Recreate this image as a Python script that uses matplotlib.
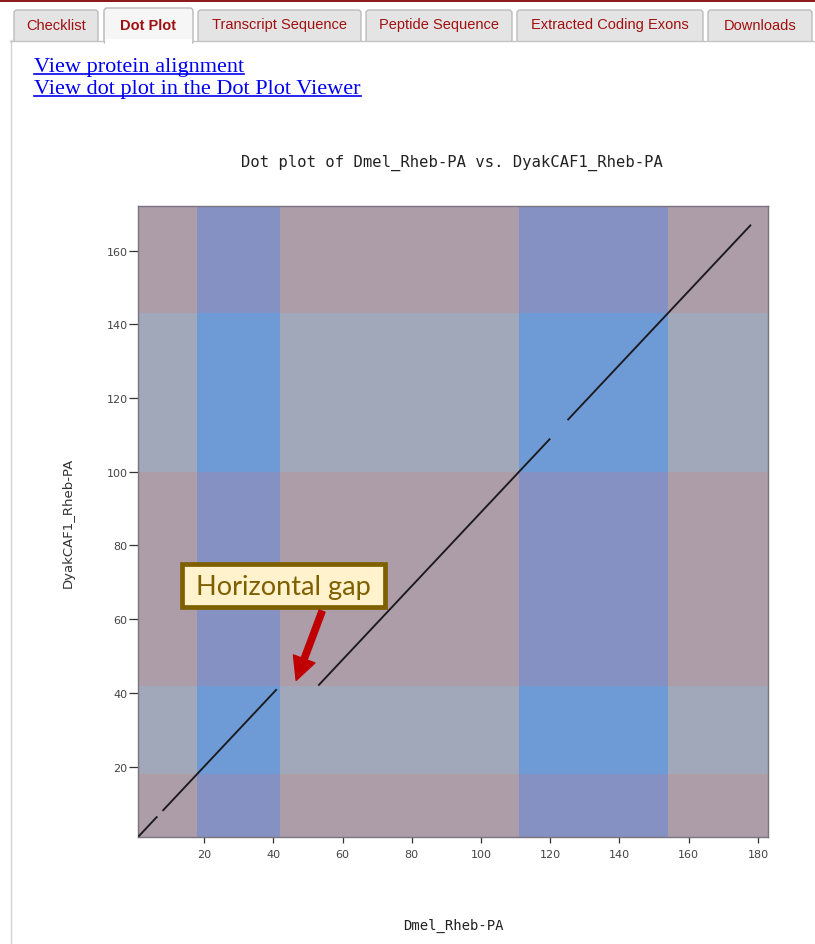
import matplotlib
matplotlib.use("Agg")
import matplotlib.pyplot as plt
from matplotlib.patches import Rectangle, FancyBboxPatch
from matplotlib.lines import Line2D
from matplotlib.transforms import IdentityTransform

# ---------------- data ----------------
title_text = "Dot plot of Dmel_Rheb-PA vs. DyakCAF1_Rheb-PA"
query_name = "Dmel_Rheb-PA"
subject_name = "DyakCAF1_Rheb-PA"
query_exon_bounds = [1, 18, 42, 111, 154, 183]
subject_exon_bounds = [1, 18, 42, 100, 143, 172]
seg_x_start = [1, 8, 53, 125]
seg_x_end = [6.5, 41, 120, 178]
seg_y_start = [1, 8, 42, 114]
seg_y_end = [6.5, 41, 109, 167]
x_ticks = [20, 40, 60, 80, 100, 120, 140, 160, 180]
y_ticks = [20, 40, 60, 80, 100, 120, 140, 160]
tab_labels = ["Checklist", "Dot Plot", "Transcript Sequence", "Peptide Sequence",
              "Extracted Coding Exons", "Downloads"]
active_tab = "Dot Plot"
link_labels = ["View protein alignment", "View dot plot in the Dot Plot Viewer"]
callout_text = "Horizontal gap"

# ---------------- style ----------------
W, H = 815, 945
tab_x0 = [14, 104, 198, 366, 517, 708]
tab_x1 = [98, 193, 361, 512, 703, 812]
c_pink = "#ac9da8"
c_vband = "#8491c2"
c_hband = "#a0a8ba"
c_both = "#6e9bd6"

fig = plt.figure(figsize=(W / 100, H / 100), dpi=100)
fig.patch.set_facecolor("white")
ID = IdentityTransform()


def rect_px(x0, y0, x1, y1, rounded=False, **kw):
    if rounded:
        r = FancyBboxPatch((x0, H - y1), x1 - x0, y1 - y0,
                           boxstyle="round,pad=0,rounding_size=3", transform=ID, **kw)
    else:
        r = Rectangle((x0, H - y1), x1 - x0, y1 - y0, transform=ID, **kw)
    fig.add_artist(r)
    return r


def line_px(xs, ys, **kw):
    fig.add_artist(Line2D(xs, [H - y for y in ys], transform=ID, **kw))


# top bar, tabs
rect_px(0, 0, W, 3, facecolor="#8e1b1b", edgecolor="none")
line_px([10.5, 10.5], [41, H], color="#d2d2d2", lw=1)
for lab, x0, x1 in zip(tab_labels, tab_x0, tab_x1):
    active = lab == active_tab
    if active:
        rect_px(x0, 9, x1, 45, rounded=True, facecolor="#f6f6f6", edgecolor="#b8b8b8", lw=1)
        rect_px(x0 + 1, 40, x1 - 1, 46, facecolor="white", edgecolor="none")
    else:
        rect_px(x0, 11, x1, 44, rounded=True, facecolor="#e4e4e4", edgecolor="#bcbcbc", lw=1)
        rect_px(x0 - 1, 42, x1 + 1, 46, facecolor="white", edgecolor="none")
    fig.text((x0 + x1) / 2 / W, 1 - 25.5 / H, lab, ha="center", va="center",
             fontsize=10.5, color="#a01010", family="Liberation Sans",
             fontweight="bold" if active else "normal")
line_px([10, 104], [41.5, 41.5], color="#c4c4c4", lw=1)
line_px([193, W], [41.5, 41.5], color="#c4c4c4", lw=1)

# links
link_y = [67.5, 89.5]
link_texts = []
for lab, y in zip(link_labels, link_y):
    t = fig.text(34 / W, 1 - y / H, lab, ha="left", va="center", fontsize=16,
                 color="#0000ee", family="Liberation Serif")
    link_texts.append(t)

# ---------------- axes ----------------
ax = fig.add_axes([138.3 / W, 1 - 837.7 / H, (768.3 - 138.3) / W, (837.7 - 207.3) / H])
ax.set_xlim(query_exon_bounds[0], query_exon_bounds[-1])
ax.set_ylim(subject_exon_bounds[0], subject_exon_bounds[-1])

for i in range(len(query_exon_bounds) - 1):
    for j in range(len(subject_exon_bounds) - 1):
        xo, yo = i % 2 == 1, j % 2 == 1
        c = c_both if (xo and yo) else c_vband if xo else c_hband if yo else c_pink
        ax.add_patch(Rectangle((query_exon_bounds[i], subject_exon_bounds[j]),
                               query_exon_bounds[i + 1] - query_exon_bounds[i],
                               subject_exon_bounds[j + 1] - subject_exon_bounds[j],
                               facecolor=c, edgecolor="none", zorder=0))

for xs, xe, ys, ye in zip(seg_x_start, seg_x_end, seg_y_start, seg_y_end):
    ax.plot([xs, xe], [ys, ye], color="#1a1a1e", lw=1.35, solid_capstyle="butt", zorder=3)

ax.set_xticks(x_ticks)
ax.set_yticks(y_ticks)
ax.tick_params(axis="x", length=4.2, width=0.9, color="#333333", pad=5,
               labelsize=8, labelcolor="#444444")
ax.tick_params(axis="y", length=6.8, width=0.9, color="#333333", pad=0.8,
               labelsize=8, labelcolor="#444444")
for s in ax.spines.values():
    s.set_color("#7a7480")
    s.set_linewidth(1.0)

ax.set_xlabel(query_name, family="DejaVu Sans Mono", fontsize=10, color="#222222",
              labelpad=42)
ax.set_ylabel(subject_name, family="DejaVu Sans", fontsize=9.5, color="#333333",
              labelpad=23)
fig.text(452 / W, 1 - 162.5 / H, title_text, ha="center", va="center",
         family="DejaVu Sans Mono", fontsize=11.2, color="#222222")

# callout
ax.add_patch(Rectangle((13.7, 63.4), 58.5, 11.5, facecolor="#fff2cc",
                       edgecolor="#7f6000", linewidth=3.4, zorder=5))
ax.text(42.9, 69.0, callout_text, ha="center", va="center", fontsize=19.5,
        family="Lato", color="#7f6000", zorder=6)
ax.annotate("", xy=(46.6, 43.4), xytext=(54.1, 62.2),
            arrowprops=dict(arrowstyle="simple,head_length=1.1,head_width=1.1,tail_width=0.3",
                            color="#c00000", mutation_scale=15, shrinkA=0, shrinkB=0),
            zorder=6)

# underline links
fig.canvas.draw()
r = fig.canvas.get_renderer()
for t in link_texts:
    bb = t.get_window_extent(renderer=r)
    fig.add_artist(Line2D([bb.x0, bb.x1], [bb.y0 + 2.5, bb.y0 + 2.5], transform=ID,
                          color="#0000ee", lw=1.2))

fig.savefig("out.png", dpi=100)
